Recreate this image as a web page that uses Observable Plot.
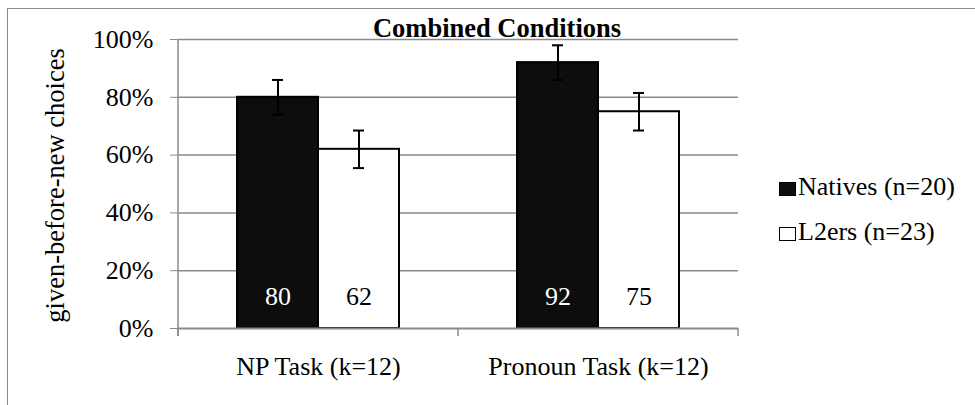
<!DOCTYPE html>
<html>
<head>
<meta charset="utf-8">
<script src="https://cdn.jsdelivr.net/npm/d3@7"></script>
<script src="https://cdn.jsdelivr.net/npm/@observablehq/plot@0.6"></script>
<style>
  body { margin: 0; background: white; }
  #wrap { position: relative; width: 975px; height: 405px; overflow: hidden; font-family: "Liberation Serif", "Times New Roman", serif; color: #000; }
  #border { position: absolute; left: 7px; top: 8px; right: -5px; bottom: -5px; border-left: 1.5px solid #8a8a8a; border-top: 1.5px solid #8a8a8a; pointer-events: none; }
  #title { position: absolute; left: 497px; top: 15px; transform: translateX(-50%); font-weight: bold; font-size: 26.5px; line-height: 26px; white-space: nowrap; }
  .lg-sq { position: absolute; box-sizing: border-box; border: 1.5px solid #000; }
  .lg-tx { position: absolute; font-size: 26px; line-height: 26px; white-space: nowrap; }
  #chart { position: absolute; left: 0; top: 0; }
  g[aria-label^="y-axis"] line, g[aria-label^="y-axis"] path { stroke: #8a8a8a; stroke-opacity: 1; }
</style>
</head>
<body>
<div id="wrap">
  <div id="chart"></div>
  <div id="border"></div>
  <div id="title">Combined Conditions</div>
  <div class="lg-sq" style="left:779px;top:182px;width:17px;height:14px;background:#0d0d0d;"></div>
  <div class="lg-tx" style="left:798px;top:174px;">Natives (n=20)</div>
  <div class="lg-sq" style="left:779px;top:227px;width:17px;height:14px;background:#fff;"></div>
  <div class="lg-tx" style="left:798px;top:219px;">L2ers (n=23)</div>
</div>
<script>
const tasks = ["NP Task (k=12)", "Pronoun Task (k=12)"];
const groups = ["Natives", "L2ers"];
const nativesValues = [80, 92];
const l2ersValues = [62, 75];
const nativesErrors = [6, 6];
const l2ersErrors = [6.5, 6.5];
const yTicks = [0, 20, 40, 60, 80, 100];
const yLabel = "given-before-new choices";

const rows = [];
tasks.forEach((t, i) => {
  rows.push({task: t, group: "Natives", value: nativesValues[i], err: nativesErrors[i]});
  rows.push({task: t, group: "L2ers", value: l2ersValues[i], err: l2ersErrors[i]});
});

const chart = Plot.plot({
  width: 975,
  height: 405,
  marginLeft: 178,
  marginRight: 237,
  marginTop: 39,
  marginBottom: 77,
  style: {fontFamily: "'Liberation Serif', 'Times New Roman', serif", fontSize: "26px", background: "transparent", color: "#000"},
  facet: {data: rows, x: "task"},
  fx: {domain: tasks, padding: 0, axis: "bottom", tickSize: 0, tickPadding: 28, label: null},
  x: {domain: groups, paddingInner: 0, paddingOuter: 0.728, axis: null},
  y: {domain: [0, 100], ticks: yTicks, tickFormat: d => d + "%", tickSize: 8, tickPadding: 17, label: null},
  color: {domain: groups, range: ["#0d0d0d", "#ffffff"]},
  marks: [
    Plot.ruleY(yTicks.slice(1), {stroke: "#8a8a8a", strokeWidth: 1.5}),
    Plot.barY(rows, {x: "group", y: "value", fill: "group", stroke: "#000", strokeWidth: 2}),
    Plot.ruleY([0], {stroke: "#8a8a8a", strokeWidth: 2}),
    Plot.ruleX(rows, {x: "group", y1: d => d.value - d.err, y2: d => d.value + d.err, stroke: "#000", strokeWidth: 2}),
    Plot.tickY(rows, {x: "group", y: d => d.value + d.err, insetLeft: 35, insetRight: 35, stroke: "#000", strokeWidth: 2}),
    Plot.tickY(rows, {x: "group", y: d => d.value - d.err, insetLeft: 35, insetRight: 35, stroke: "#000", strokeWidth: 2}),
    Plot.text(rows, {filter: d => d.group === "Natives", x: "group", text: "value", frameAnchor: "bottom", dy: -24, fill: "#fff", fontSize: 26}),
    Plot.text(rows, {filter: d => d.group === "L2ers", x: "group", text: "value", frameAnchor: "bottom", dy: -24, fill: "#000", fontSize: 26})
  ]
});

document.getElementById("chart").appendChild(chart);

// Axis decorations derived from the plot's own scales
const fx = chart.scale("fx");
const y = chart.scale("y");
const svg = d3.select(chart);
const y0 = y.apply(0), yTop = y.apply(100);
const bounds = tasks.map(t => fx.apply(t));
bounds.push(fx.apply(tasks[tasks.length - 1]) + fx.bandwidth);
const deco = svg.append("g").attr("stroke", "#8a8a8a").attr("stroke-width", 1.5);
deco.append("line").attr("x1", bounds[0]).attr("x2", bounds[0]).attr("y1", yTop).attr("y2", y0 + 8);
bounds.forEach(b => deco.append("line").attr("x1", b).attr("x2", b).attr("y1", y0).attr("y2", y0 + 8));

// Y axis title
svg.append("text")
  .attr("transform", `translate(64,${(y0 + yTop) / 2 + 2}) rotate(-90)`)
  .attr("text-anchor", "middle")
  .attr("font-size", 26.5)
  .attr("fill", "#000")
  .text(yLabel);
</script>
</body>
</html>
